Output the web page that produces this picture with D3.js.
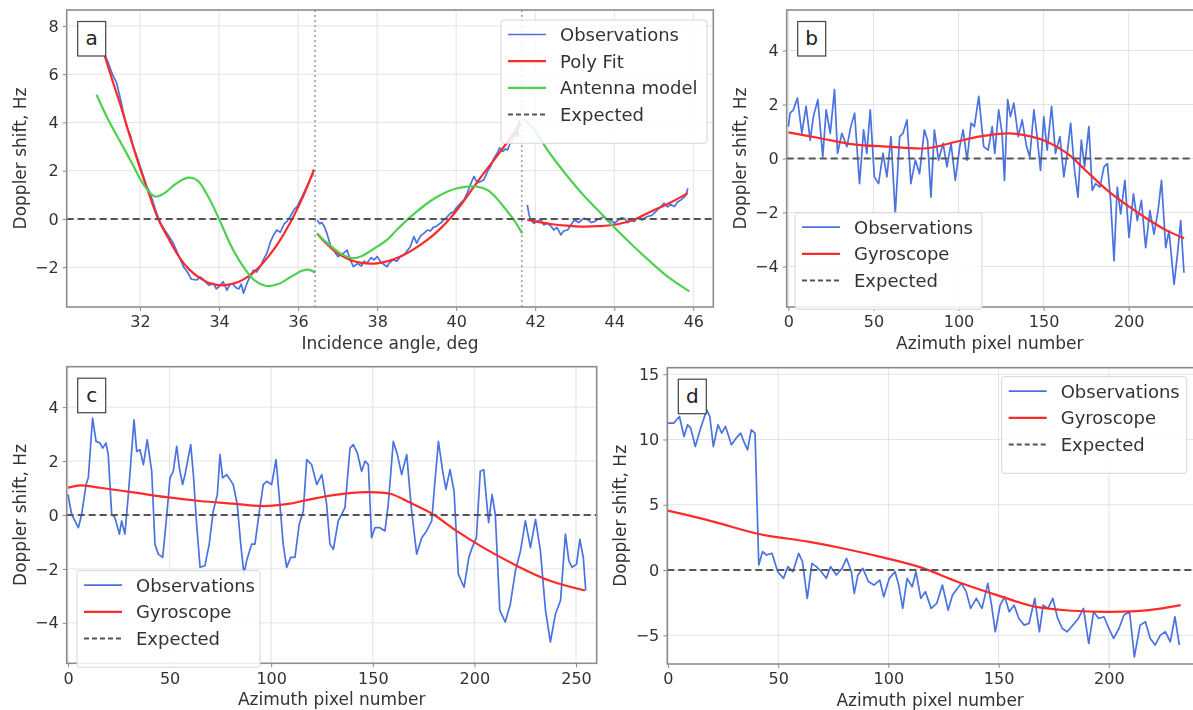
<!DOCTYPE html>
<html>
<head>
<meta charset="utf-8">
<script src="https://cdn.jsdelivr.net/npm/d3@7"></script>
<style>
  body { margin: 0; background: #fff; }
  svg { display: block; font-family: "DejaVu Sans", sans-serif; filter: blur(0.45px); }
</style>
</head>
<body>
<svg id="chart" width="1193" height="710"></svg>
<script>
// ---- Panel a: incidence angle (deg) vs Doppler shift (Hz), three swaths ----
const angleTicks = [32, 34, 36, 38, 40, 42, 44, 46];
const angleYTicks = [-2, 0, 2, 4, 6, 8];
const swathBreaks = [36.43, 41.66];

const aObs1 = [[31.11,6.8],[31.2,6.46],[31.3,6.0],[31.41,5.63],[31.5,5.0],[31.58,4.4],[31.66,3.83],[31.75,3.5],[31.83,3.0],[31.92,2.6],[32.0,2.2],[32.08,1.8],[32.17,1.34],[32.25,1.1],[32.33,0.7],[32.42,0.24],[32.5,-0.1],[32.6,-0.4],[32.72,-0.7],[32.84,-1.0],[32.92,-1.3],[33.0,-1.6],[33.1,-1.98],[33.2,-2.2],[33.3,-2.5],[33.44,-2.53],[33.52,-2.4],[33.6,-2.5],[33.68,-2.65],[33.75,-2.75],[33.86,-2.67],[33.93,-2.9],[34.0,-2.8],[34.1,-2.6],[34.2,-2.95],[34.28,-2.7],[34.35,-2.7],[34.43,-2.85],[34.5,-2.9],[34.56,-2.7],[34.62,-3.08],[34.7,-2.7],[34.75,-2.5],[34.87,-2.12],[34.95,-2.2],[35.05,-1.95],[35.12,-1.7],[35.21,-1.42],[35.3,-0.95],[35.37,-0.7],[35.46,-0.46],[35.55,-0.55],[35.65,-0.2],[35.72,-0.1],[35.8,0.1],[35.9,0.4],[35.97,0.5],[36.06,0.79],[36.15,1.1],[36.25,1.45],[36.39,1.9]];
const aObs2 = [[36.48,-0.04],[36.55,-0.2],[36.6,-0.15],[36.66,-0.3],[36.73,-0.6],[36.82,-1.1],[36.9,-1.29],[37.0,-1.55],[37.08,-1.5],[37.15,-1.42],[37.24,-1.29],[37.32,-1.7],[37.4,-1.98],[37.5,-1.85],[37.6,-1.95],[37.67,-1.75],[37.74,-1.84],[37.85,-1.6],[37.92,-1.7],[38.0,-1.56],[38.1,-1.8],[38.18,-1.9],[38.25,-1.98],[38.32,-1.8],[38.4,-1.7],[38.5,-1.75],[38.59,-1.56],[38.7,-1.45],[38.77,-1.3],[38.84,-1.15],[38.93,-0.73],[39.0,-1.0],[39.1,-0.7],[39.18,-0.6],[39.27,-0.46],[39.35,-0.5],[39.42,-0.35],[39.5,-0.3],[39.6,-0.18],[39.68,-0.05],[39.75,0.05],[39.86,0.24],[39.94,0.3],[40.0,0.45],[40.11,0.65],[40.2,0.8],[40.28,1.07],[40.38,1.5],[40.45,1.76],[40.5,1.6],[40.55,1.5],[40.62,1.55],[40.7,1.62],[40.8,2.0],[40.87,2.17],[40.95,2.5],[41.04,2.73],[41.1,2.95],[41.18,2.8],[41.25,2.9],[41.3,2.86],[41.38,3.2],[41.46,3.41],[41.52,3.6],[41.55,3.4],[41.59,4.1]];
const aObs3 = [[41.8,0.58],[41.84,0.2],[41.88,-0.04],[41.97,-0.18],[42.05,-0.1],[42.14,-0.04],[42.22,-0.25],[42.3,-0.18],[42.4,-0.3],[42.47,-0.46],[42.55,-0.35],[42.65,-0.66],[42.72,-0.5],[42.82,-0.46],[42.9,-0.25],[42.99,-0.04],[43.1,-0.15],[43.17,-0.05],[43.24,0.03],[43.35,-0.05],[43.42,-0.15],[43.5,-0.11],[43.6,0.0],[43.68,0.05],[43.75,0.1],[43.85,-0.1],[43.92,-0.05],[44.0,-0.18],[44.1,-0.05],[44.18,0.05],[44.25,0.03],[44.35,-0.15],[44.42,-0.05],[44.5,-0.11],[44.6,0.05],[44.7,-0.05],[44.78,0.05],[44.84,0.1],[44.95,0.15],[45.02,0.25],[45.09,0.37],[45.17,0.5],[45.26,0.65],[45.35,0.5],[45.43,0.6],[45.52,0.51],[45.6,0.7],[45.69,0.79],[45.77,0.9],[45.82,1.0],[45.86,1.27]];

const aFit1 = [[31.1,6.8],[31.3,5.75],[31.5,4.75],[31.75,3.4],[32.0,2.1],[32.25,0.93],[32.46,0.0],[32.7,-0.75],[33.0,-1.6],[33.25,-2.1],[33.5,-2.43],[33.8,-2.68],[34.1,-2.75],[34.5,-2.6],[34.75,-2.37],[35.0,-2.02],[35.25,-1.55],[35.5,-0.99],[35.85,0.0],[36.1,0.84],[36.25,1.4],[36.4,2.05]];
const aFit2 = [[36.48,-0.6],[36.7,-1.0],[36.9,-1.3],[37.1,-1.52],[37.32,-1.7],[37.6,-1.82],[38.0,-1.84],[38.3,-1.74],[38.59,-1.56],[38.9,-1.28],[39.27,-0.87],[39.6,-0.4],[39.86,0.05],[40.15,0.65],[40.45,1.34],[40.7,1.9],[40.96,2.45],[41.3,3.2],[41.63,3.97]];
const aFit3 = [[41.8,-0.04],[42.1,-0.13],[42.39,-0.21],[42.8,-0.28],[43.24,-0.32],[43.6,-0.3],[44.08,-0.22],[44.5,-0.03],[44.92,0.3],[45.4,0.66],[45.86,1.07]];

const aModel1 = [[30.9,5.15],[31.2,4.1],[31.5,3.2],[31.8,2.3],[32.1,1.4],[32.38,0.93],[32.6,1.05],[32.9,1.45],[33.22,1.71],[33.45,1.6],[33.7,1.0],[34.0,0.0],[34.3,-1.1],[34.6,-1.95],[34.9,-2.55],[35.21,-2.78],[35.5,-2.7],[35.8,-2.42],[36.1,-2.15],[36.25,-2.1],[36.44,-2.22]];
const aModel2 = [[36.48,-0.6],[36.7,-0.95],[36.9,-1.22],[37.15,-1.5],[37.4,-1.63],[37.6,-1.55],[37.74,-1.42],[38.0,-1.15],[38.25,-0.87],[38.5,-0.45],[38.76,-0.04],[39.0,0.3],[39.27,0.65],[39.5,0.9],[39.77,1.13],[40.0,1.26],[40.28,1.34],[40.53,1.34],[40.79,1.2],[41.0,0.9],[41.13,0.65],[41.3,0.3],[41.46,-0.04],[41.67,-0.6]];
const aModel3 = [[41.75,4.1],[41.97,3.69],[42.4,2.65],[42.82,1.76],[43.24,0.95],[43.66,0.24],[44.08,-0.48],[44.5,-1.15],[44.93,-1.8],[45.35,-2.39],[45.9,-3.0]];

// ---- Panels b, c, d: azimuth pixel number vs Doppler shift (Hz) ----
const bObs = [[0,1.18],[1,1.68],[2.9,1.8],[5.3,2.24],[7.9,0.93],[10.4,1.93],[12.8,0.68],[14.7,1.55],[17.3,2.18],[20.2,0.06],[22.2,1.8],[24.6,0.93],[27.1,2.55],[28.9,0.19],[31.4,0.93],[34.4,0.44],[36.7,1.18],[38.9,1.68],[41.8,-0.93],[44.2,1.06],[46.1,0.19],[48.1,1.8],[50.5,-0.68],[53,-0.93],[55.6,0.19],[57.9,-0.68],[60.3,0.81],[62.8,-2.05],[65.4,0.81],[67.3,0.93],[69.7,1.43],[72,-0.93],[74.6,-0.06],[77.1,-0.56],[79.9,1.06],[81.8,0.68],[83.8,-1.43],[85.8,1.06],[88.3,-0.06],[90.9,0.56],[93.2,-0.31],[95.6,0.56],[98.1,-0.81],[100.7,0.44],[102.7,1.06],[105,-0.06],[107.4,1.31],[109.3,1.18],[111.9,2.3],[114.8,0.44],[117.4,0.31],[119.8,1.18],[121.3,0.19],[123.6,1.8],[125.6,0.93],[127,-0.81],[128.9,2.18],[130.5,1.55],[132.5,2.05],[135.1,0.81],[137.4,1.43],[140,0.44],[141.9,0.06],[144.3,1.8],[146.2,0.81],[148.2,-0.44],[150.1,1.55],[152.1,0.31],[154.7,1.93],[157,0.19],[159.6,0.81],[161.9,-0.68],[163.9,0.19],[165.9,1.31],[168.2,-0.44],[170.2,-1.43],[172.2,0.68],[174.1,-0.31],[176.6,1.18],[178.6,-1.18],[180.6,-0.93],[183.1,-1.06],[185.5,-0.31],[187.5,-0.19],[189.4,-1.55],[191.4,-3.79],[193.3,-1.06],[195.3,-2.05],[197.8,-0.81],[200.2,-2.92],[202.8,-1.31],[205.1,-2.3],[207.5,-1.55],[210,-3.3],[212.5,-1.93],[214.9,-2.8],[217.3,-1.93],[219.3,-0.81],[221.8,-3.3],[223.7,-2.67],[226.7,-4.66],[228.7,-3.54],[230.6,-2.3],[232.5,-4.23]];
const bGyro = [[0,0.97],[18.7,0.75],[38.3,0.52],[57.9,0.44],[81.5,0.38],[97.2,0.6],[112.9,0.82],[129.5,0.93],[142.3,0.82],[152.1,0.62],[163.9,0.19],[175.7,-0.5],[187.5,-1.18],[199.2,-1.74],[211,-2.24],[222.8,-2.68],[232.6,-2.95]];

const cObs = [[0,0.76],[1.8,0.02],[3.4,-0.22],[5.1,-0.47],[6.7,0.02],[8.9,1.13],[10,1.38],[12.1,3.59],[13.8,2.73],[15.7,2.67],[17.1,2.48],[18.7,2.67],[19.8,2.24],[21.5,0.02],[23.1,-0.1],[25.3,-0.71],[26.4,-0.22],[28,-0.71],[29.7,0.76],[32.5,3.53],[33.8,2.36],[35.4,2.42],[37.1,1.87],[39,2.79],[41.2,1.62],[42.8,-1.08],[44.4,-1.45],[46.6,-1.57],[48.2,-0.34],[50.2,1.38],[51.8,1.62],[53.5,2.55],[54.8,1.75],[56.4,1.13],[57.6,1.5],[60.4,2.61],[61.7,1.5],[63.3,-0.34],[65,-1.94],[67.4,-1.88],[69.5,-1.08],[71.5,0.15],[73.5,0.76],[74.8,2.24],[76.1,1.38],[78.1,1.5],[79.7,1.32],[81.3,1.13],[83.3,0.39],[85,-1.08],[86.6,-2.19],[87.9,-1.7],[90.4,-1.08],[92,-1.08],[94.2,0.15],[96.1,1.13],[97.8,1.25],[100.2,1.13],[102.4,2.05],[104.3,0.39],[105.9,-1.08],[107.6,-1.94],[109.6,-1.57],[111.7,-1.57],[113.8,-0.34],[115.8,0.15],[117.5,2.05],[119.9,1.87],[122.4,1.13],[124.9,1.5],[127.3,0.39],[128.9,-1.08],[130.6,-1.27],[133,-0.22],[134.7,0.02],[136.3,0.27],[138.8,2.48],[140.4,2.61],[142.4,2.3],[144.5,1.62],[146.2,2.0],[147.8,1.87],[149.4,-0.84],[151.1,-0.47],[153.5,-0.47],[156,-0.59],[157.6,0.39],[160.1,2.73],[162.1,2.24],[164.2,1.5],[166.7,2.24],[169.1,0.15],[171.6,-1.45],[174.1,-0.84],[176.5,-0.59],[179,-0.22],[180.6,1.25],[182.3,2.73],[184.4,1.62],[186,0.95],[188,1.68],[190,0.89],[192.1,-2.19],[194.9,-2.68],[197.3,-1.57],[198.9,-1.21],[201,-0.84],[202.9,1.62],[204.6,1.68],[207,-0.28],[208.7,0.76],[210.3,0.02],[212.5,-3.54],[215.2,-3.97],[217.7,-3.3],[220.2,-2.07],[222.7,-1.33],[225.1,-0.22],[227.6,-1.21],[230.1,-0.16],[232.5,-1.33],[235,-3.54],[237.4,-4.71],[239.9,-3.67],[242.4,-3.17],[244.8,-0.71],[246.5,-1.7],[248.1,-1.94],[250.3,-1.82],[251.9,-0.9],[253.6,-1.57],[254.8,-2.8]];
const cGyro = [[0,1.01],[6,1.1],[15.7,1.01],[32.1,0.84],[48.5,0.66],[64.9,0.52],[81.3,0.42],[96.1,0.33],[109.2,0.42],[114.2,0.5],[130.6,0.74],[147,0.85],[158.5,0.79],[168.3,0.46],[179.8,0.02],[191.2,-0.59],[204.4,-1.21],[220.8,-1.88],[237.2,-2.44],[254.4,-2.8]];

const dObs = [[0,11.25],[2.6,11.25],[5.2,11.76],[7.3,10.23],[8.9,11.13],[10.3,10.87],[12.4,9.46],[14.6,10.74],[17.6,12.28],[19,11.76],[20.6,9.46],[22.7,11.13],[24.4,10.49],[26.1,11.0],[28.8,9.59],[30.9,10.1],[33,10.49],[34.4,9.85],[36.1,9.21],[37.8,10.74],[39.5,10.49],[41.2,0.38],[42.9,1.41],[44.7,1.15],[47.2,1.28],[49.8,-0.13],[52.4,-0.64],[54.4,0.26],[56.7,-0.13],[59.3,1.28],[61,0.64],[63.2,-2.17],[65.3,0.51],[67.3,0.26],[69.6,-0.13],[71.8,-0.64],[73.8,0.26],[76.4,-0.38],[79,0.13],[81,0.9],[83.2,-0.13],[84.5,-1.79],[86.2,-0.38],[88.4,0.13],[91,-0.9],[93.5,-1.15],[96.1,-0.77],[97.9,-2.05],[100.4,-0.64],[103,-0.13],[104.7,-1.15],[106.5,-2.94],[108.5,-0.64],[110.8,-1.28],[112.5,-0.13],[114.7,-2.17],[116.8,-1.66],[119.4,-2.94],[121.9,-2.56],[124.5,-1.15],[127.1,-3.07],[129.1,-1.92],[131.3,-1.41],[133.1,-1.02],[135.3,-1.66],[137.3,-2.94],[139.9,-2.17],[142.5,-2.94],[145.1,-1.02],[146.8,-2.69],[148.5,-4.73],[150.7,-2.69],[152.8,-2.05],[154.8,-3.2],[157,-2.69],[159.2,-3.71],[161.6,-4.22],[163.8,-4.09],[166.4,-2.17],[168.5,-4.73],[170.2,-2.69],[172.4,-2.94],[174.6,-2.17],[176.8,-3.71],[178.9,-4.48],[181.1,-4.73],[183.7,-4.22],[186.2,-3.71],[188.5,-2.94],[190.9,-5.63],[193.1,-3.2],[195.4,-3.71],[197.8,-3.58],[200,-4.48],[202.2,-5.24],[204.6,-4.48],[206.9,-3.45],[209.4,-3.2],[211.6,-6.65],[214.2,-4.22],[216.6,-3.96],[218.8,-5.24],[221,-5.75],[223.4,-4.99],[225.7,-4.73],[227.9,-5.5],[230,-3.58],[232,-5.75]];
const dGyro = [[0,4.55],[20.6,3.71],[41.2,2.76],[63.5,2.17],[80.7,1.61],[97.9,0.95],[115,0.18],[132.2,-0.95],[149.3,-1.92],[166.4,-2.81],[183.7,-3.12],[200.8,-3.2],[218,-3.07],[232.6,-2.69]];

const azTicksB = [0, 50, 100, 150, 200];
const azTicksC = [0, 50, 100, 150, 200, 250];
const shiftTicks = [-4, -2, 0, 2, 4];
const shiftTicksD = [-5, 0, 5, 10, 15];

const colors = { obs: "#4a72e0", fit: "#ff2a2a", model: "#4fd04f", expected: "#555" };

const svg = d3.select("#chart");

function drawPanel(p) {
    const x = d3.scaleLinear().domain(p.xDomain).range([p.left, p.right]);
    const y = d3.scaleLinear().domain(p.yDomain).range([p.bottom, p.top]);
    const g = svg.append("g");

    g.append("clipPath").attr("id", "clip-" + p.name)
      .append("rect")
      .attr("x", p.left).attr("y", p.top)
      .attr("width", p.right - p.left).attr("height", p.bottom - p.top);

    // grid lines
    g.selectAll(".vgrid").data(p.xTicks).enter().append("line")
      .attr("x1", d => x(d)).attr("x2", d => x(d))
      .attr("y1", p.top).attr("y2", p.bottom)
      .attr("stroke", "#e3e3e3").attr("stroke-width", 1);
    g.selectAll(".hgrid").data(p.yTicks).enter().append("line")
      .attr("x1", p.left).attr("x2", p.right)
      .attr("y1", d => y(d)).attr("y2", d => y(d))
      .attr("stroke", "#e3e3e3").attr("stroke-width", 1);

    const plot = g.append("g").attr("clip-path", "url(#clip-" + p.name + ")");

    // dotted swath separators
    (p.breaks || []).forEach(b => {
        plot.append("line")
          .attr("x1", x(b)).attr("x2", x(b))
          .attr("y1", p.top).attr("y2", p.bottom)
          .attr("stroke", "#9a9a9a").attr("stroke-width", 1.5)
          .attr("stroke-dasharray", "2,3");
    });

    const rough = d3.line().x(d => x(d[0])).y(d => y(d[1]));
    const smooth = d3.line().curve(d3.curveCatmullRom).x(d => x(d[0])).y(d => y(d[1]));

    p.series.forEach(s => {
        s.data.forEach(seg => {
            plot.append("path")
              .datum(seg)
              .attr("d", s.smooth ? smooth : rough)
              .attr("fill", "none")
              .attr("stroke", s.color)
              .attr("stroke-width", s.width)
              .attr("stroke-linejoin", "round");
        });
    });

    // expected: zero line
    plot.append("path")
      .datum([[p.xDomain[0], 0], [p.xDomain[1], 0]])
      .attr("d", rough)
      .attr("stroke", colors.expected)
      .attr("stroke-width", 2)
      .attr("stroke-dasharray", "7,4");

    // axes
    const xAxis = d3.axisBottom(x).tickValues(p.xTicks).tickSize(4).tickPadding(5);
    const yAxis = d3.axisLeft(y).tickValues(p.yTicks).tickSize(4).tickPadding(4)
      .tickFormat(d => d < 0 ? "\u2212" + Math.abs(d) : d);

    const gx = g.append("g").attr("transform", `translate(0, ${p.bottom})`).call(xAxis);
    const gy = g.append("g").attr("transform", `translate(${p.left}, 0)`).call(yAxis);
    [gx, gy].forEach(a => {
        a.select(".domain").remove();
        a.selectAll(".tick line").attr("stroke", "#888");
        a.selectAll(".tick text").attr("fill", "#333")
          .style("font-size", "16px").style("font-family", "DejaVu Sans");
    });

    // frame
    g.append("rect")
      .attr("x", p.left).attr("y", p.top)
      .attr("width", p.right - p.left).attr("height", p.bottom - p.top)
      .attr("fill", "none").attr("stroke", "#8c8c8c").attr("stroke-width", 1.6);

    // axis titles
    g.append("text")
      .attr("x", (p.left + Math.min(p.right, 1193)) / 2)
      .attr("y", p.bottom + 42)
      .attr("text-anchor", "middle")
      .attr("fill", "#333").style("font-size", "17px")
      .text(p.xTitle);
    g.append("text")
      .attr("transform", `translate(${p.left - 41}, ${(p.top + p.bottom) / 2}) rotate(-90)`)
      .attr("text-anchor", "middle")
      .attr("fill", "#333").style("font-size", "17px")
      .text("Doppler shift, Hz");

    // panel letter
    g.append("rect")
      .attr("x", p.left + 11).attr("y", p.top + 11.5)
      .attr("width", 28).attr("height", 34.5)
      .attr("fill", "#fff").attr("stroke", "#444").attr("stroke-width", 1.2);
    g.append("text")
      .attr("x", p.left + 25).attr("y", p.top + 35)
      .attr("text-anchor", "middle")
      .attr("fill", "#222").style("font-size", "20px")
      .text(p.name);

    // legend
    const entries = p.series.map(s => ({ label: s.label, color: s.color, width: s.width, dash: null }))
      .concat([{ label: "Expected", color: colors.expected, width: 2, dash: "5,3" }]);
    const lg = g.append("g").attr("transform", `translate(${p.legend[0]}, ${p.legend[1]})`);
    lg.append("rect")
      .attr("width", p.legendWidth).attr("height", 16.5 + 26.7 * entries.length)
      .attr("rx", 3)
      .attr("fill", "#fff").attr("fill-opacity", 0.85)
      .attr("stroke", "#d6d6d6").attr("stroke-width", 1);
    entries.forEach((e, i) => {
        const cy = 14.5 + i * 26.7;
        lg.append("line")
          .attr("x1", 7).attr("x2", 45)
          .attr("y1", cy).attr("y2", cy)
          .attr("stroke", e.color).attr("stroke-width", e.width)
          .attr("stroke-dasharray", e.dash);
        lg.append("text")
          .attr("x", 59).attr("y", cy + 6.5)
          .attr("fill", "#333").style("font-size", "18px")
          .text(e.label);
    });
}

const panels = [
    {
        name: "a", left: 66.7, right: 713.3, top: 10, bottom: 307,
        xDomain: [30.145, 46.506], yDomain: [-3.65, 8.66],
        xTicks: angleTicks, yTicks: angleYTicks, breaks: swathBreaks,
        xTitle: "Incidence angle, deg",
        series: [
            { label: "Observations", color: colors.obs, width: 1.7, data: [aObs1, aObs2, aObs3] },
            { label: "Poly Fit", color: colors.fit, width: 2.2, smooth: true, data: [aFit1, aFit2, aFit3] },
            { label: "Antenna model", color: colors.model, width: 2.2, smooth: true, data: [aModel1, aModel2, aModel3] }
        ],
        legend: [501, 20], legendWidth: 206
    },
    {
        name: "b", left: 786.7, right: 1195, top: 10, bottom: 307,
        xDomain: [-1, 239], yDomain: [-5.5, 5.5],
        xTicks: azTicksB, yTicks: shiftTicks,
        xTitle: "Azimuth pixel number",
        series: [
            { label: "Observations", color: colors.obs, width: 1.7, data: [bObs] },
            { label: "Gyroscope", color: colors.fit, width: 2.2, smooth: true, data: [bGyro] }
        ],
        legend: [795, 212.7], legendWidth: 187
    },
    {
        name: "c", left: 66.7, right: 596.7, top: 366.7, bottom: 663.3,
        xDomain: [-0.64, 260.2], yDomain: [-5.5, 5.5],
        xTicks: azTicksC, yTicks: shiftTicks,
        xTitle: "Azimuth pixel number",
        series: [
            { label: "Observations", color: colors.obs, width: 1.7, data: [cObs] },
            { label: "Gyroscope", color: colors.fit, width: 2.2, smooth: true, data: [cGyro] }
        ],
        legend: [77, 570.7], legendWidth: 183
    },
    {
        name: "d", left: 667.3, right: 1195, top: 367.7, bottom: 664,
        xDomain: [-0.3, 239.1], yDomain: [-7.2, 15.5],
        xTicks: azTicksB, yTicks: shiftTicksD,
        xTitle: "Azimuth pixel number",
        series: [
            { label: "Observations", color: colors.obs, width: 1.7, data: [dObs] },
            { label: "Gyroscope", color: colors.fit, width: 2.2, smooth: true, data: [dGyro] }
        ],
        legend: [1001.7, 376.7], legendWidth: 185
    }
];

panels.forEach(drawPanel);
</script>
</body>
</html>
